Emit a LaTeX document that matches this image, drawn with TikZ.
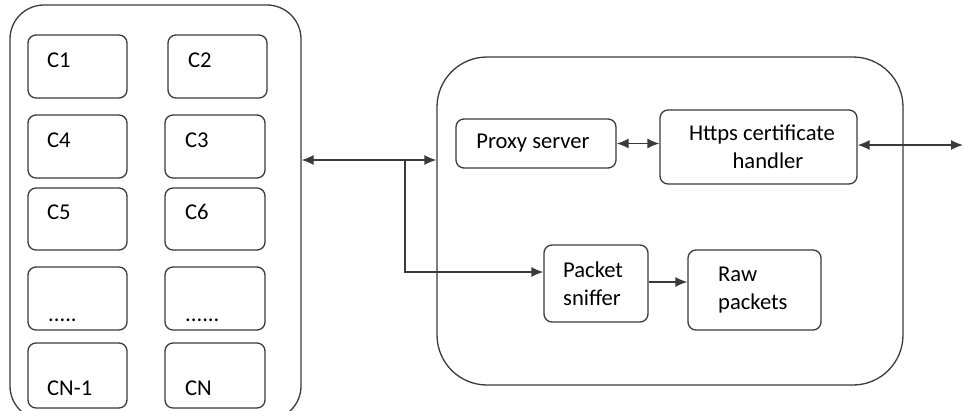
\documentclass[tikz,border=0pt]{standalone}
\usepackage{fontspec}
\setmainfont{Carlito}
\usetikzlibrary{arrows.meta}
\definecolor{ln}{HTML}{3A3A3A}
\tikzset{
  x=1pt, y=-1pt,
  cbox/.style={draw=ln, line width=1.3pt, rounded corners=8pt, inner sep=0pt},
  bigbox/.style={draw=ln, line width=1.3pt, rounded corners=34pt, inner sep=0pt},
  lbl/.style={inner sep=0pt, anchor=base west, text=black},
  conn/.style={draw=ln, line width=1.3pt},
  tip/.tip={Latex[length=12pt,width=10pt]}
}
\begin{document}
\begin{tikzpicture}[font=\fontsize{22.6}{28}\selectfont]
\useasboundingbox (0,0) rectangle (964,410);
\clip (0,0) rectangle (964,410);
% left container
\node[bigbox, minimum width=291pt, minimum height=415pt] (clients) at (155.5,212.5) {};
\node[cbox, minimum width=99pt, minimum height=63pt] (c1) at (77.5,66.5) {};
\node[cbox, minimum width=99pt, minimum height=63pt] (c2) at (217.5,66.5) {};
\node[cbox, minimum width=99pt, minimum height=63pt] (c4) at (77.5,146.5) {};
\node[cbox, minimum width=100pt, minimum height=63pt] (c3) at (215,146.5) {};
\node[cbox, minimum width=99pt, minimum height=62pt] (c5) at (77.5,219) {};
\node[cbox, minimum width=100pt, minimum height=62pt] (c6) at (215,219) {};
\node[cbox, minimum width=99pt, minimum height=63pt] (d1) at (77.5,298.5) {};
\node[cbox, minimum width=100pt, minimum height=63pt] (d2) at (215,298.5) {};
\node[cbox, minimum width=99pt, minimum height=65pt] (cn1) at (77.5,375.5) {};
\node[cbox, minimum width=100pt, minimum height=65pt] (cn) at (215,375.5) {};
\node[lbl] (t1) at (47,67) {C1};
\node[lbl] (t2) at (188,67) {C2};
\node[lbl] (t4) at (47,147) {C4};
\node[lbl] (t3) at (185,147) {C3};
\node[lbl] (t5) at (47,219) {C5};
\node[lbl] (t6) at (185,219) {C6};
\node[lbl] (td1) at (48,321) {.....};
\node[lbl] (td2) at (185,321) {......};
\node[lbl] (tcn1) at (47,395) {CN-1};
\node[lbl] (tcn) at (185,395) {CN};
% right container
\node[bigbox, rounded corners=50pt, minimum width=466pt, minimum height=328pt] (server) at (670,221) {};
\node[cbox, minimum width=160pt, minimum height=49pt] (proxy) at (536,143.5) {};
\node[inner sep=0pt] (tproxy) at (533,143) {Proxy server};
\node[cbox, minimum width=197pt, minimum height=74pt] (https) at (758.5,147) {};
\node[inner sep=0pt, align=center] (thttps) at (762,147) {Https certificate\\\hspace*{12pt}handler};
\node[cbox, minimum width=104pt, minimum height=77pt] (sniff) at (596,283.5) {};
\node[inner sep=0pt, align=left, anchor=west] (tsniff) at (563,283.5) {Packet\\sniffer};
\node[cbox, minimum width=133pt, minimum height=80pt] (raw) at (754.5,290) {};
\node[inner sep=0pt, align=left, anchor=west] (traw) at (718,290) {Raw\\packets};
% connectors
\coordinate (j) at (405,160);
\coordinate (br) at (405,272);
\coordinate (ext) at (963,145);
\draw[conn, {tip}-{tip}] (clients.east |- j) -- (server.west |- j);
\draw[conn, -{tip}] (j) -- (br) -- (sniff.west |- br);
\draw[conn, {tip}-{tip}] (proxy.east) -- (https.west |- proxy.east);
\draw[conn, {tip}-{tip}] (https.east |- ext) -- (ext);
\draw[conn, -{tip}] (sniff.east |- 0,282) -- (raw.west |- 0,282);
\end{tikzpicture}
\end{document}
